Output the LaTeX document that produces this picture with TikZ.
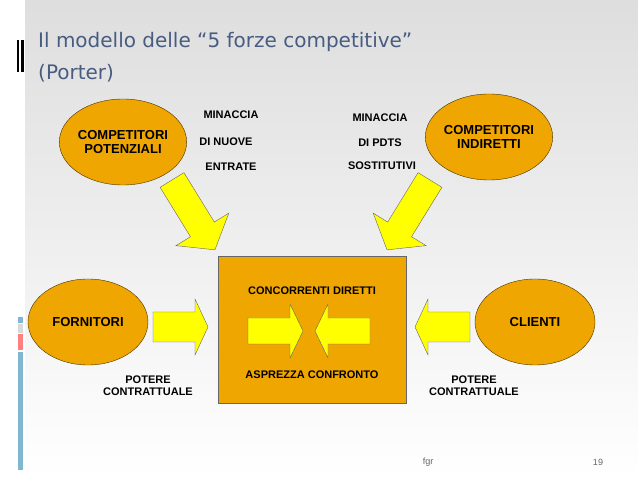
\documentclass[tikz,border=0pt]{standalone}
\usepackage{fontspec}
\setmainfont{Liberation Sans}
\newfontfamily\titlefont{DejaVu Sans}
\definecolor{org}{RGB}{240,166,0}
\definecolor{ttl}{RGB}{72,92,130}
\definecolor{ylw}{RGB}{255,255,0}
\tikzset{
 ell/.style={ellipse, draw=black!70!org, fill=org, minimum width=120pt, minimum height=86pt, align=center, font=\bfseries\fontsize{13}{14}\selectfont, inner sep=0pt},
 lbl/.style={font=\bfseries\fontsize{11}{12}\selectfont, align=center},
 arr/.style={draw=black!60, fill=ylw, line join=miter},
}
\usetikzlibrary{shapes.geometric}
% len, half shaft, half head, head length
\newcommand{\yarrow}[4]{\draw[arr] (0,#2)--({#1-#4},#2)--({#1-#4},#3)--(#1,0)--({#1-#4},-#3)--({#1-#4},-#2)--(0,-#2)--cycle;}
\begin{document}
\begin{tikzpicture}[x=1pt,y=-1pt]
\useasboundingbox (0,0) rectangle (638,478);
\shade[top color=black!13, bottom color=white] (25,0) rectangle (638,478);
\fill[black] (17,40) rectangle (19,72);
\fill[black] (21,40) rectangle (24,72);
\fill[cyan!50!gray!80] (18,317) rectangle (23,323);
\fill[black!15] (18,324) rectangle (23,333);
\fill[red!50!white] (18,334) rectangle (23,350);
\fill[cyan!50!gray!80] (18,352) rectangle (23,470);
\node[anchor=base west, text=ttl, font=\titlefont\fontsize{20}{24}\selectfont, inner sep=0] (t1) at (38,48) {Il modello delle “5 forze competitive”};
\node[anchor=base west, text=ttl, font=\titlefont\fontsize{20}{24}\selectfont, inner sep=0] (t2) at (38,80) {(Porter)};
\node[ell] (cp) at (123,142) {COMPETITORI\\POTENZIALI};
\node[ell] (ci) at (489,137) {COMPETITORI\\INDIRETTI};
\node[ell] (fo) at (88,322) {FORNITORI};
\node[ell] (cl) at (535,322) {CLIENTI};
\node[lbl] (m1) at (231,115) {MINACCIA};
\node[lbl] (m2) at (226,142) {DI NUOVE};
\node[lbl] (m3) at (231,167) {ENTRATE};
\node[lbl] (s1) at (380,118) {MINACCIA};
\node[lbl] (s2) at (380,143) {DI PDTS};
\node[lbl] (s3) at (382,166) {SOSTITUTIVI};
\node[draw=black!60, fill=org, minimum width=188pt, minimum height=147pt, inner sep=0] (box) at (312,329.5) {};
\node[lbl] (cd) at (312,291) {CONCORRENTI DIRETTI};
\node[lbl] (ac) at (312,375) {ASPREZZA CONFRONTO};
\node[lbl] (p1) at (148,386) {POTERE\\CONTRATTUALE};
\node[lbl] (p2) at (474,386) {POTERE\\CONTRATTUALE};
\node[font=\fontsize{9}{10}\selectfont, text=black!60] (fg) at (428,462) {fgr};
\node[font=\fontsize{9}{10}\selectfont, text=black!60] (pg) at (598,462) {19};
\begin{scope}[shift={(172,180)}, rotate=-58.4]\yarrow{82}{14}{31}{24}\end{scope}
\begin{scope}[shift={(430,180)}, rotate=-121.6]\yarrow{82}{14}{31}{24}\end{scope}
\begin{scope}[shift={(153,327)}]\yarrow{55}{15}{28}{13}\end{scope}
\begin{scope}[shift={(470,327)}, rotate=180]\yarrow{55}{15}{28}{13}\end{scope}
\begin{scope}[shift={(248,331)}]\yarrow{55}{13}{27}{13}\end{scope}
\begin{scope}[shift={(370,331)}, rotate=180]\yarrow{55}{13}{27}{13}\end{scope}
\end{tikzpicture}
\end{document}
